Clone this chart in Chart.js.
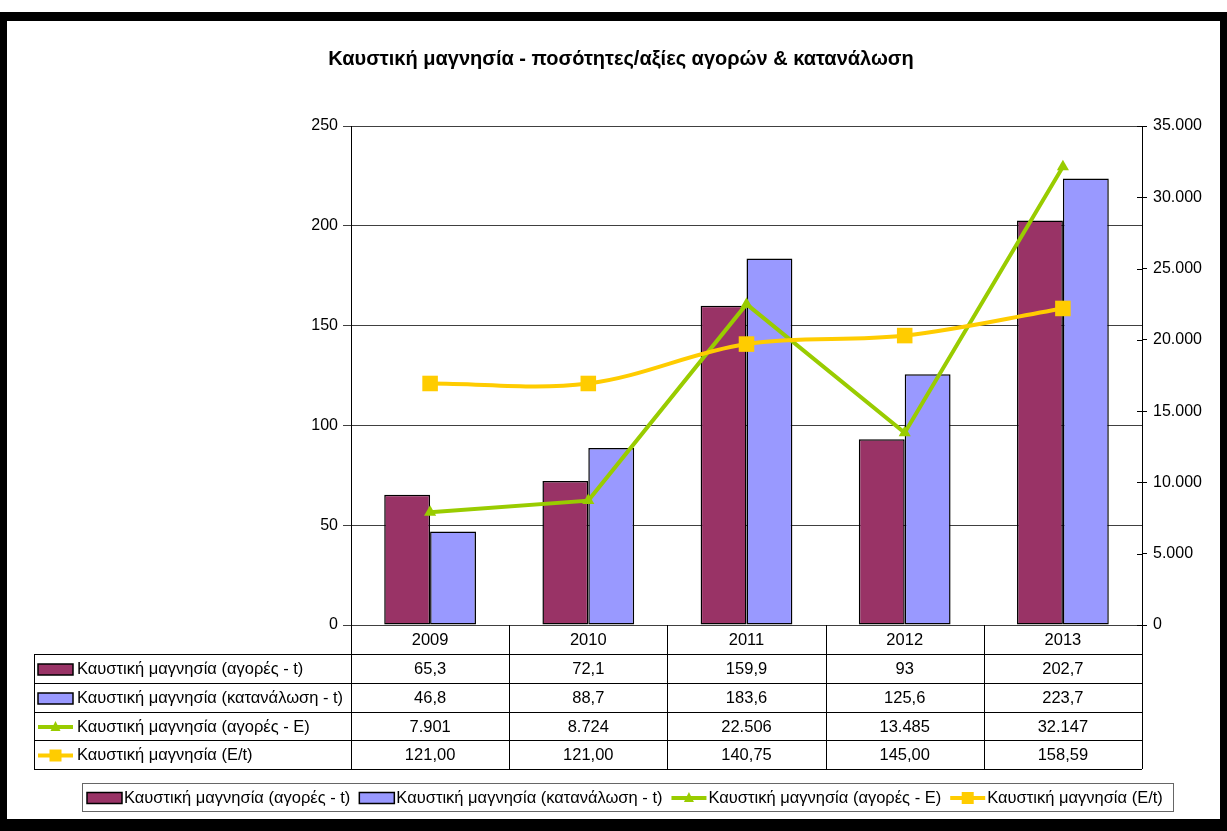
<!DOCTYPE html>
<html>
<head>
<meta charset="utf-8">
<script src="https://cdn.jsdelivr.net/npm/chart.js@4/dist/chart.umd.min.js"></script>
<style>
html, body { margin: 0; padding: 0; background: #fff; }
#wrap { position: relative; width: 1227px; height: 831px; overflow: hidden; }
#frame { position: absolute; left: 0; top: 12px; width: 1213px; height: 798px; border-style: solid; border-color: #000; border-width: 9px 7px 12px 7px; pointer-events: none; }
canvas { position: absolute; left: 0; top: 0; }
</style>
</head>
<body>
<div id="wrap">
  <canvas id="chart" width="1227" height="831"></canvas>
  <div id="frame"></div>
</div>
<script>
const years = ["2009", "2010", "2011", "2012", "2013"];
const purchasesT = [65.3, 72.1, 159.9, 93, 202.7];
const consumptionT = [46.8, 88.7, 183.6, 125.6, 223.7];
const purchasesEur = [7901, 8724, 22506, 13485, 32147];
const pricePerT = [121.00, 121.00, 140.75, 145.00, 158.59];
const seriesNames = [
    "Καυστική μαγνησία (αγορές - t)",
    "Καυστική μαγνησία (κατανάλωση - t)",
    "Καυστική μαγνησία (αγορές - E)",
    "Καυστική μαγνησία (E/t)"
];
const titleText = "Καυστική μαγνησία - ποσότητες/αξίες αγορών & κατανάλωση";

const FONT = "'Liberation Sans', Arial, sans-serif";
const TXT = 16.5;

function fmtDec(v) { return String(v).replace(".", ","); }
function fmtFixed2(v) { return v.toFixed(2).replace(".", ","); }
function fmtThousands(v) { return String(Math.round(v)).replace(/\B(?=(\d{3})+(?!\d))/g, "."); }

const rowFormats = [fmtDec, fmtDec, fmtThousands, fmtFixed2];

function line(ctx, x1, y1, x2, y2) {
    ctx.beginPath();
    ctx.moveTo(x1, y1);
    ctx.lineTo(x2, y2);
    ctx.stroke();
}

// legend key like the excel one: box for bars, line + marker for lines
function drawKey(ctx, ds, x, y) {
    ctx.save();
    if (ds.type === "line") {
        ctx.strokeStyle = ds.borderColor;
        ctx.lineWidth = 4;
        line(ctx, x, y, x + 35, y);
        ctx.fillStyle = ds.borderColor;
        const cx = x + 17.5;
        if (ds.pointStyle === "triangle") {
            ctx.beginPath();
            ctx.moveTo(cx, y - 6);
            ctx.lineTo(cx + 5, y + 4);
            ctx.lineTo(cx - 5, y + 4);
            ctx.closePath();
            ctx.fill();
        } else {
            ctx.fillRect(cx - 6, y - 6, 12, 12);
        }
    } else {
        ctx.fillStyle = ds.backgroundColor;
        ctx.fillRect(x, y - 5.5, 35, 11);
        ctx.strokeStyle = "#000";
        ctx.lineWidth = 1.5;
        ctx.strokeRect(x, y - 5.5, 35, 11);
    }
    ctx.restore();
}

const tablePlugin = {
    id: "dataTable",
    afterDraw(chart) {
        const ctx = chart.ctx;
        const xs = chart.scales.x;
        const y1 = chart.scales.y1;
        const a = chart.chartArea;
        const rows = [654, 683, 712, 740, 769];
        const tableLeft = 34;
        const half = (xs.getPixelForValue(1) - xs.getPixelForValue(0)) / 2;

        ctx.save();
        // title
        ctx.fillStyle = "#000";
        ctx.font = "bold 20px " + FONT;
        ctx.textAlign = "center";
        ctx.textBaseline = "middle";
        ctx.fillText(titleText, 621, 59);

        // right axis ticks crossing the axis line
        ctx.strokeStyle = "#000";
        ctx.lineWidth = 1;
        y1.ticks.forEach(t => {
            const py = Math.round(y1.getPixelForValue(t.value)) + 0.5;
            line(ctx, a.right - 5, py, a.right, py);
        });

        // table grid
        rows.forEach(y => line(ctx, tableLeft, y + 0.5, a.right, y + 0.5));
        line(ctx, tableLeft + 0.5, rows[0], tableLeft + 0.5, rows[rows.length - 1]);
        for (let i = 0; i <= years.length; i++) {
            const px = Math.round(xs.getPixelForValue(i) - half) + 0.5;
            line(ctx, px, a.bottom, px, rows[rows.length - 1]);
        }

        ctx.font = TXT + "px " + FONT;
        ctx.textAlign = "center";
        years.forEach((yr, i) => {
            ctx.fillText(yr, xs.getPixelForValue(i), (a.bottom + rows[0]) / 2 + 1);
        });

        chart.data.datasets.forEach((ds, r) => {
            const cy = (rows[r] + rows[r + 1]) / 2 + 1;
            ds.data.forEach((v, i) => {
                ctx.textAlign = "center";
                ctx.fillText(rowFormats[r](v), xs.getPixelForValue(i), cy);
            });
            drawKey(ctx, ds, 38, cy);
            ctx.textAlign = "left";
            ctx.fillStyle = "#000";
            ctx.fillText(ds.label, 77, cy);
        });

        // bottom legend
        ctx.strokeStyle = "#666";
        ctx.strokeRect(82.5, 783.5, 1091, 28);
        let lx = 87;
        const ly = 798;
        chart.data.datasets.forEach(ds => {
            drawKey(ctx, ds, lx, ly);
            lx += 37;
            ctx.textAlign = "left";
            ctx.fillStyle = "#000";
            ctx.fillText(ds.label, lx, ly);
            lx += ctx.measureText(ds.label).width + 9;
        });
        ctx.restore();
    }
};

new Chart(document.getElementById("chart"), {
    type: "bar",
    data: {
        labels: years,
        datasets: [
            {
                label: seriesNames[0],
                data: purchasesT,
                backgroundColor: "#993366",
                borderColor: "#000",
                borderWidth: 1.5,
                borderSkipped: false,
                yAxisID: "y",
                order: 2
            },
            {
                label: seriesNames[1],
                data: consumptionT,
                backgroundColor: "#9999FF",
                borderColor: "#000",
                borderWidth: 1.5,
                borderSkipped: false,
                yAxisID: "y",
                order: 3
            },
            {
                type: "line",
                label: seriesNames[2],
                data: purchasesEur,
                borderColor: "#99CC00",
                backgroundColor: "#99CC00",
                borderWidth: 4,
                pointStyle: "triangle",
                pointRadius: 7,
                pointBorderWidth: 0,
                tension: 0,
                fill: false,
                yAxisID: "y1",
                order: 1
            },
            {
                type: "line",
                label: seriesNames[3],
                data: pricePerT,
                borderColor: "#FFCC00",
                backgroundColor: "#FFCC00",
                borderWidth: 4,
                pointStyle: "rect",
                pointRadius: 11,
                pointBorderWidth: 0,
                tension: 0.35,
                fill: false,
                yAxisID: "y",
                order: 0
            }
        ]
    },
    options: {
        responsive: false,
        animation: false,
        layout: { padding: { top: 126, left: 0, right: 0, bottom: 0 } },
        categoryPercentage: 0.58,
        barPercentage: 1,
        plugins: {
            legend: { display: false },
            tooltip: { enabled: false },
            title: { display: false }
        },
        scales: {
            x: {
                ticks: { display: false },
                grid: { display: false },
                border: { display: false },
                afterFit: s => { s.height = 206; }
            },
            y: {
                position: "left",
                min: 0,
                max: 250,
                ticks: { stepSize: 50, color: "#000", font: { family: FONT, size: 16 }, padding: 5 },
                grid: { color: "#404040", tickLength: 8, lineWidth: 1 },
                border: { color: "#000", width: 1 },
                afterFit: s => { s.width = 351; }
            },
            y1: {
                position: "right",
                min: 0,
                max: 35000,
                ticks: {
                    stepSize: 5000,
                    color: "#000",
                    font: { family: FONT, size: 16 },
                    padding: 6,
                    callback: v => fmtThousands(v)
                },
                grid: { drawOnChartArea: false, color: "#000", tickLength: 5 },
                border: { color: "#000", width: 1 },
                afterFit: s => { s.width = 85; }
            }
        }
    },
    plugins: [tablePlugin]
});
</script>
</body>
</html>
